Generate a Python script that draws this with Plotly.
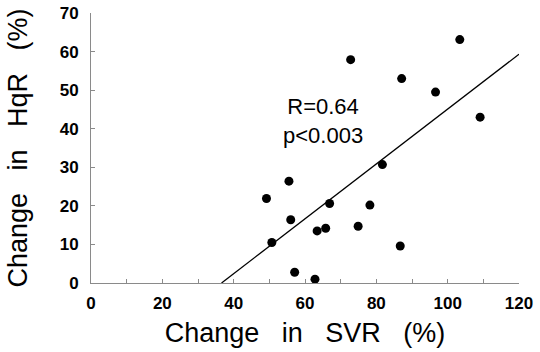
import plotly.graph_objects as go

# Data
svr_change = [103.4, 72.8, 87.1, 96.6, 109.1, 81.7, 55.5, 49.2, 66.9, 78.2,
              56.0, 74.9, 65.8, 63.4, 50.7, 86.7, 57.1, 62.8]
hqr_change = [63.1, 57.9, 53.0, 49.5, 43.0, 30.7, 26.4, 21.9, 20.6, 20.2,
              16.4, 14.7, 14.2, 13.5, 10.5, 9.6, 2.8, 1.0]

# Regression line end points
fit_x = [36.6, 120]
fit_y = [0, 59.3]

x_ticks = [0, 20, 40, 60, 80, 100, 120]
y_ticks = [0, 10, 20, 30, 40, 50, 60, 70]

stat_text = "R=0.64<br>p<0.003"
SP = "\u00a0\u00a0 "
x_title = f"Change{SP}in{SP}SVR{SP}(%)"
y_title = f"Change{SP}in{SP}HqR{SP}(%)"

FONT = "Liberation Sans, Arial, sans-serif"
AXIS_COLOR = "#8a8a8a"

fig = go.Figure()
fig.add_trace(go.Scatter(x=fit_x, y=fit_y, mode="lines",
                         line=dict(color="black", width=1.3),
                         hoverinfo="skip", showlegend=False))
fig.add_trace(go.Scatter(x=svr_change, y=hqr_change, mode="markers",
                         marker=dict(color="black", size=9),
                         showlegend=False, cliponaxis=False))

fig.add_annotation(x=65, y=41.9, xref="x", yref="y", text=stat_text,
                   showarrow=False, align="center",
                   font=dict(family=FONT, size=22, color="black"))

fig.update_layout(
    width=540, height=352,
    margin=dict(l=91, r=21, t=13, b=69, autoexpand=False),
    paper_bgcolor="white", plot_bgcolor="white",
    font=dict(family=FONT, color="black"),
)
fig.update_xaxes(
    range=[0, 120], tickvals=x_ticks, ticktext=[f"<b>{v}</b>" for v in x_ticks],
    ticks="inside", ticklen=4, tickcolor=AXIS_COLOR, tickwidth=1,
    minor=dict(dtick=10, ticks="inside", ticklen=4, tickcolor=AXIS_COLOR, tickwidth=1),
    showline=True, linecolor=AXIS_COLOR, linewidth=1,
    showgrid=False, zeroline=False, automargin=False,
    ticklabelstandoff=5,
    tickfont=dict(family=FONT, size=17, color="black"),
    title=dict(text=x_title, font=dict(family=FONT, size=27, color="black"), standoff=10),
)
fig.update_yaxes(
    range=[0, 70], tickvals=y_ticks, ticktext=[f"<b>{v}</b>" for v in y_ticks],
    ticks="inside", ticklen=4, tickcolor=AXIS_COLOR, tickwidth=1,
    showline=True, linecolor=AXIS_COLOR, linewidth=1,
    showgrid=False, zeroline=False, automargin=False,
    ticklabelstandoff=8,
    tickfont=dict(family=FONT, size=17, color="black"),
    title=dict(text=y_title, font=dict(family=FONT, size=27, color="black"), standoff=24),
)

fig.write_html("out.html", config={"displayModeBar": False},
               post_script="document.body.style.margin='0';document.body.style.padding='0';")
